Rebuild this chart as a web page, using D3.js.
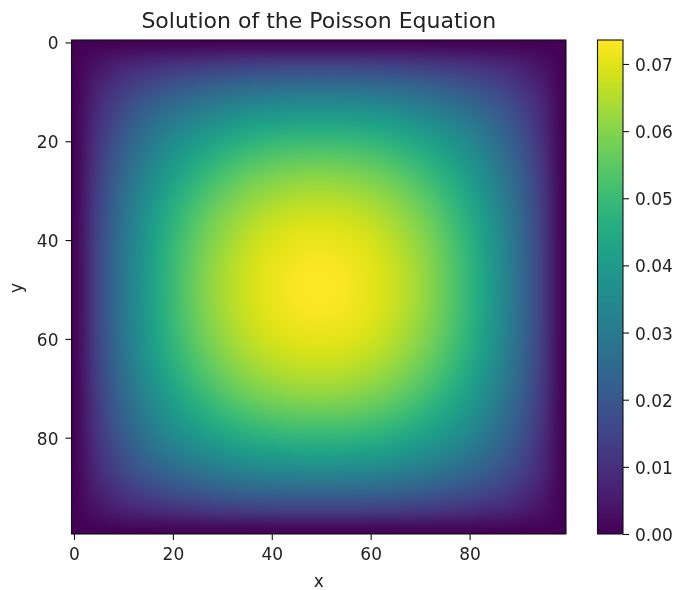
<!DOCTYPE html>
<html><head><meta charset="utf-8">
<script src="https://cdnjs.cloudflare.com/ajax/libs/d3/7.9.0/d3.min.js"></script>
<style>
html,body{margin:0;padding:0;background:#fff}
#wrap{position:relative;width:680px;height:590px}
canvas,svg{position:absolute;left:0;top:0}
text{font-family:"DejaVu Sans";fill:#222}
</style></head><body><div id="wrap"></div>
<script>
// Estimated field, one quadrant (other three mirror it), unit 1e-4
const quadrant = [
[0,0,0,0,0,0,0,0,0,0,0,0,0],
[0,31,55,75,89,99,108,116,123,128,130,131,131],
[0,55,98,135,163,184,201,216,229,238,244,247,247],
[0,75,135,184,224,255,280,303,321,334,343,347,348],
[0,89,163,224,274,315,348,376,400,417,428,434,435],
[0,99,184,255,315,364,404,438,466,487,501,508,510],
[0,108,201,280,348,404,451,490,522,546,561,570,572],
[0,116,216,303,376,438,490,533,568,594,611,621,624],
[0,123,229,321,400,466,522,568,604,632,651,662,665],
[0,128,238,334,417,487,546,594,632,662,682,693,696],
[0,130,244,343,428,501,561,611,651,682,703,714,718],
[0,131,247,347,434,508,570,621,662,693,714,727,731],
[0,131,247,348,435,510,572,624,665,696,718,731,735]
];
const axisTicks = [0,20,40,60,80];
const barTicks = [0,0.01,0.02,0.03,0.04,0.05,0.06,0.07];
const valueMax = 0.07357;
const lastIndex = 99;

const L=71.5,R=566,T=40,B=534,BL=597.5,BR=623;
const x=d3.scaleLinear().domain([-0.5,99.5]).range([L,R]);
const y=d3.scaleLinear().domain([-0.5,99.5]).range([T,B]);
const bar=d3.scaleLinear().domain([0,valueMax]).range([B,T]);
const color=d3.scaleSequential(d3.interpolateViridis).domain([0,valueMax]);

const wrap=d3.select('#wrap');
const cv=wrap.append('canvas').attr('width',680).attr('height',590).node();
const ctx=cv.getContext('2d');

// field: nodes placed on index space, smoothed on display
const half=quadrant.length-1, n=half*2+1;
const full=d3.range(n).map(r=>d3.range(n).map(c=>{
  const rr=r<=half?r:2*half-r, cc=c<=half?c:2*half-c;
  return quadrant[rr][cc]*1e-4;
}));
const off=document.createElement('canvas');off.width=n;off.height=n;
const oc=off.getContext('2d');
full.forEach((row,r)=>row.forEach((v,c)=>{oc.fillStyle=color(v);oc.fillRect(c,r,1,1);}));
ctx.fillStyle=color(0);ctx.fillRect(L,T,R-L,B-T);
ctx.imageSmoothingEnabled=true;ctx.imageSmoothingQuality='high';
ctx.drawImage(off,0.5,0.5,n-1,n-1,x(0),y(0),x(lastIndex)-x(0),y(lastIndex)-y(0));

// colourbar
for(let py=T;py<B;py++){ctx.fillStyle=color(bar.invert(py+0.5));ctx.fillRect(BL,py,BR-BL,1);}

const svg=wrap.append('svg').attr('width',680).attr('height',590);
const FS=17, TL=6;
function style(g){
  g.selectAll('.domain').remove();
  g.selectAll('line').attr('stroke','#111').attr('stroke-width',1.1);
  g.selectAll('text').attr('font-size',FS).attr('font-family','DejaVu Sans').attr('fill','#222');
}
svg.append('g').attr('transform',`translate(0,${B})`)
  .call(d3.axisBottom(x).tickValues(axisTicks).tickSize(TL).tickPadding(8).tickFormat(d3.format('d'))).call(style);
svg.append('g').attr('transform',`translate(${L},1)`)
  .call(d3.axisLeft(y).tickValues(axisTicks).tickSize(TL).tickPadding(7).tickFormat(d3.format('d'))).call(style)
  .selectAll('line').attr('transform','translate(0,-1)');
svg.append('g').attr('transform',`translate(${BR},1)`)
  .call(d3.axisRight(bar).tickValues(barTicks).tickSize(TL).tickPadding(6).tickFormat(d3.format('.2f'))).call(style)
  .selectAll('line').attr('transform','translate(0,-1)');

[[L,T,R-L,B-T],[BL,T,BR-BL,B-T]].forEach(([a,b,w,h])=>svg.append('rect')
  .attr('x',a).attr('y',b).attr('width',w).attr('height',h)
  .attr('fill','none').attr('stroke','#111').attr('stroke-width',1.1));

svg.append('text').attr('x',(L+R)/2).attr('y',28).attr('text-anchor','middle')
  .attr('font-size',22).text('Solution of the Poisson Equation');
svg.append('text').attr('x',(L+R)/2).attr('y',587).attr('text-anchor','middle')
  .attr('font-size',FS).text('x');
svg.append('text').attr('transform',`translate(22,${(T+B)/2+1}) rotate(-90)`).attr('text-anchor','middle')
  .attr('font-size',FS).text('y');
</script></body></html>
